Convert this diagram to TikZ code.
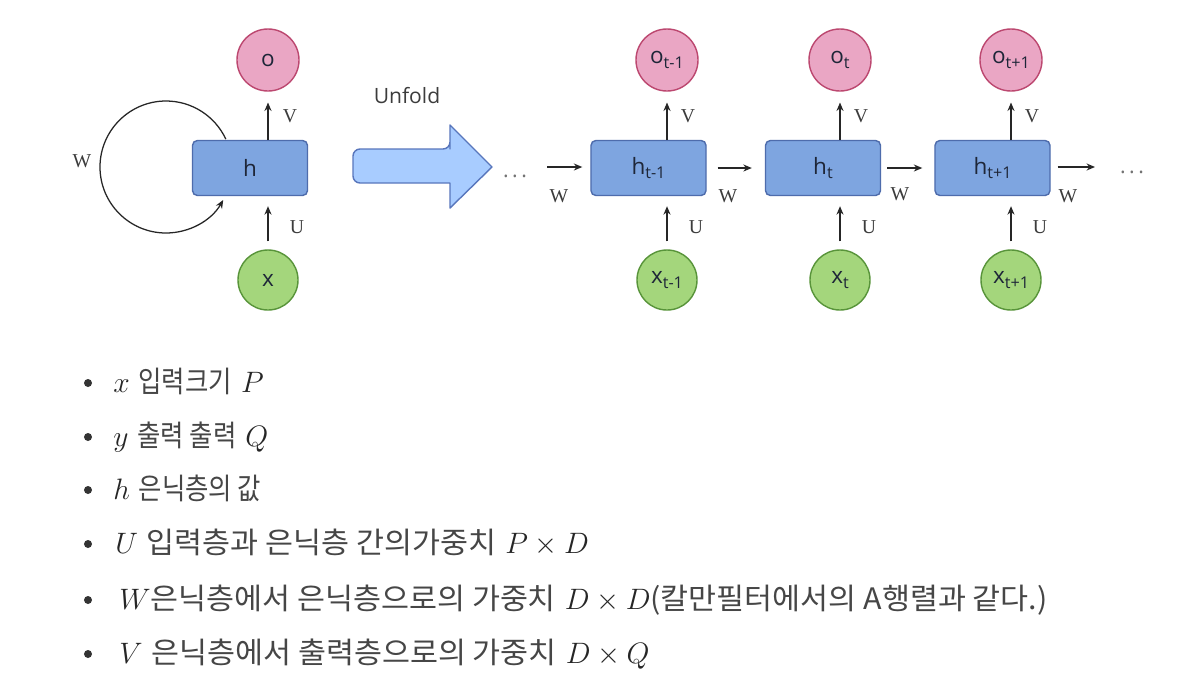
\RequirePackage{fix-cm}
\documentclass[tikz,border=0pt]{standalone}
\usepackage{fontspec}
\usetikzlibrary{arrows.meta}
\newfontfamily\sansf{Open Sans}
\newfontfamily\serf{Liberation Serif}
\newfontfamily\kr[FakeStretch=0.86]{Noto Sans CJK KR}
\newfontfamily\krb[FakeStretch=1.03]{Noto Sans CJK KR}
\definecolor{hfill}{RGB}{126,165,224}
\definecolor{hborder}{RGB}{78,108,172}
\definecolor{ofill}{RGB}{234,166,196}
\definecolor{oborder}{RGB}{188,72,112}
\definecolor{xfill}{RGB}{164,214,124}
\definecolor{xborder}{RGB}{88,148,58}
\definecolor{afill}{RGB}{168,204,255}
\definecolor{aborder}{RGB}{88,118,188}
\definecolor{txt}{RGB}{30,38,56}
\definecolor{labc}{RGB}{60,60,60}
\definecolor{krc}{RGB}{70,70,70}
\newcommand{\sbx}[1]{{\fontsize{11.5}{11.5}\selectfont\raisebox{-0.55ex}{#1}}}
\begin{document}
\begin{tikzpicture}[x=0.025cm,y=-0.025cm,
  hbox/.style={draw=hborder, fill=hfill, rounded corners=3.5pt, minimum width=2.875cm, minimum height=1.375cm, line width=1pt, font=\sansf\fontsize{16}{16}\selectfont, text=txt, inner sep=0pt},
  onode/.style={circle, draw=oborder, fill=ofill, minimum size=1.55cm, line width=1pt, font=\sansf\fontsize{16}{16}\selectfont, text=txt, inner sep=0pt},
  xnode/.style={circle, draw=xborder, fill=xfill, minimum size=1.5cm, line width=1pt, font=\sansf\fontsize{16}{16}\selectfont, text=txt, inner sep=0pt},
  conn/.style={-{Stealth[length=6pt,width=5pt]}, line width=1pt, draw=black!85},
  lab/.style={font=\serf\fontsize{14}{14}\selectfont, text=labc, inner sep=0pt},
  dots/.style={font=\sansf\fontsize{15}{15}\selectfont, text=black!55, inner sep=0pt},
  item/.style={anchor=base west, inner sep=0pt, font=\fontsize{21}{24}\selectfont, text=black!85},
  bul/.style={circle, fill=black!80, minimum size=0.2cm, inner sep=0pt}
]
\useasboundingbox[fill=white] (0,0) rectangle (1179,699);

% folded network
\node[onode] (o0) at (268,60) {o};
\node[hbox] (h0) at (250,168) {h};
\node[xnode] (x0) at (268,280) {x};
\draw[conn, shorten >=0.27cm] (h0.north -| o0) -- (o0);
\draw[conn, shorten <=0.2cm, shorten >=0.25cm] (x0) -- (h0.south -| x0);
\node[lab] (v0) at (290,116) {V};
\node[lab] (u0) at (297,227) {U};
\coordinate (ls) at (225.8,139.1);
\coordinate (le) at (223.2,200);
\draw[conn, line width=0.9pt] (ls) .. controls (215,115.9) and (191.7,101) .. (166,101)
  .. controls (129.6,101) and (100,130.6) .. (100,167)
  .. controls (100,203.5) and (129.6,233) .. (166,233)
  .. controls (189.6,233) and (211.4,220.4) .. (le);
\node[lab] (w0) at (82,161) {W};

% unfold arrow
\draw[draw=aborder, fill=afill, line width=1pt, line join=round]
  (450,149) -- (450,125) -- (492,167) -- (450,208) -- (450,183)
  [rounded corners=5pt] -- (353,183) -- (353,149) -- (450,149) [sharp corners] -- cycle;
\node[font=\sansf\fontsize{15}{15}\selectfont, text=labc] (unf) at (407,96) {Unfold};

% unfolded network
\node[dots] (d1) at (515,176) {.\,.\,.};
\node[dots] (d2) at (1132,172) {.\,.\,.};

\node[hbox] (h1) at (648.5,168) {h\sbx{t-1}};
\node[hbox] (h2) at (823,168) {h\sbx{t}};
\node[hbox] (h3) at (992.5,168) {h\sbx{t+1}};

\node[onode] (o1) at (667,60) {o\sbx{t-1}};
\node[onode] (o2) at (840,60) {o\sbx{t}};
\node[onode] (o3) at (1011,60) {o\sbx{t+1}};

\node[xnode] (x1) at (667,280) {x\sbx{t-1}};
\node[xnode] (x2) at (840,280) {x\sbx{t}};
\node[xnode] (x3) at (1011,280) {x\sbx{t+1}};

\foreach \i in {1,2,3}{
  \draw[conn, shorten >=0.27cm] (h\i.north -| o\i) -- (o\i);
  \draw[conn, shorten <=0.2cm, shorten >=0.25cm] (x\i) -- (h\i.south -| x\i);
}
\node[lab] (v1) at (688,116) {V};
\node[lab] (v2) at (861,116) {V};
\node[lab] (v3) at (1032,116) {V};
\node[lab] (u1) at (696,227) {U};
\node[lab] (u2) at (869,227) {U};
\node[lab] (u3) at (1040,227) {U};

\coordinate (a0) at (547,167);
\coordinate (a4) at (1095,167);
\draw[conn, shorten >=0.2cm] (a0) -- (h1.west |- a0);
\draw[conn, shorten <=0.275cm, shorten >=0.325cm] (h1.east) -- (h2.west);
\draw[conn, shorten <=0.15cm, shorten >=0.3cm] (h2.east) -- (h3.west);
\draw[conn, shorten <=0.175cm] (h3.east |- a4) -- (a4);
\node[lab] (w1) at (559,196) {W};
\node[lab] (w2) at (728,196) {W};
\node[lab] (w3) at (900,194) {W};
\node[lab] (w4) at (1068,196) {W};

% bullet list
\node[bul] (b1) at (88,383) {};
\node[bul] (b2) at (88,437) {};
\node[bul] (b3) at (88,490) {};
\node[bul] (b4) at (88,544) {};
\node[bul] (b5) at (88,600) {};
\node[bul] (b6) at (88,654) {};
\node[item] (l1) at (113,392) {$x$ {\kr\color{krc} 입력크기} $P$};
\node[item] (l2) at (113,446) {$y$ {\kr\color{krc} 출력 출력} $Q$};
\node[item] (l3) at (113,499) {$h$ {\kr\color{krc} 은닉층의 값}};
\node[item] (l4) at (115,553) {$U$ {\krb\color{krc} 입력층과 은닉층 간의가중치} $P\times D$};
\node[item] (l5) at (119,609) {$W${\krb\color{krc} 은닉층에서 은닉층으로의 가중치} $D\times D${\krb\color{krc} (칼만필터에서의 A행렬과 같다.)}};
\node[item] (l6) at (119,663) {$V$ {\krb\color{krc} 은닉층에서 출력층으로의 가중치} $D\times Q$};
\end{tikzpicture}
\end{document}
